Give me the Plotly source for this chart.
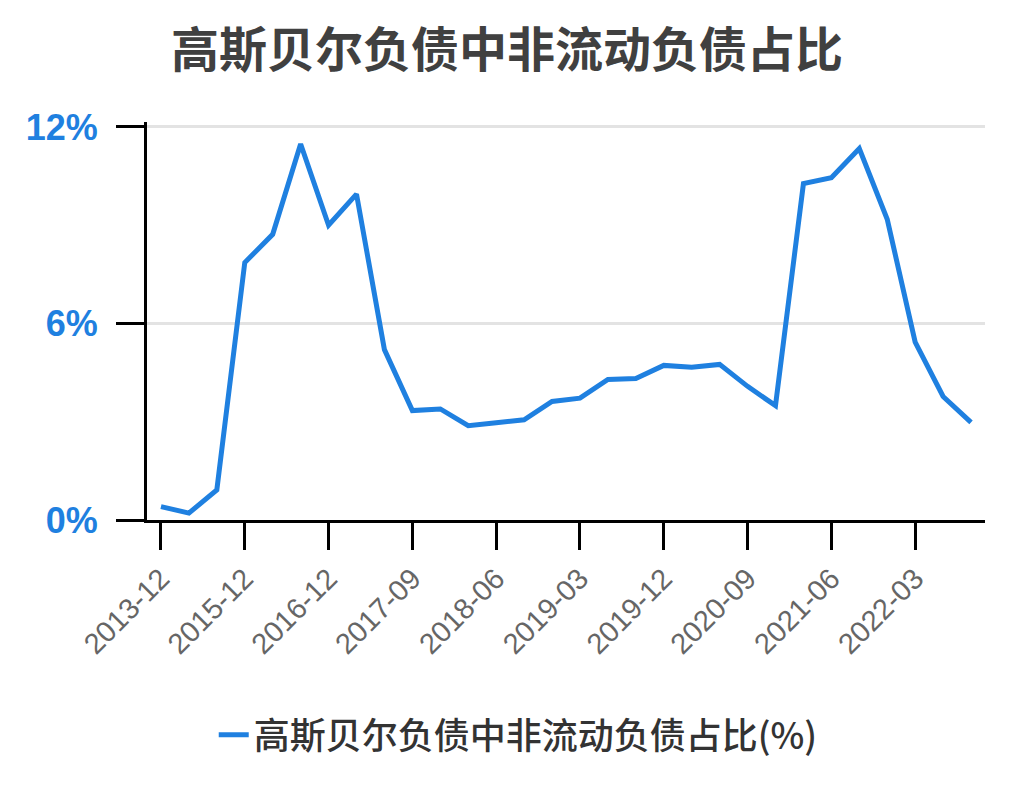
import plotly.graph_objects as go

# 报告期
periods = [
    "2013-12", "2014-12", "2015-06", "2015-12", "2016-06", "2016-09",
    "2016-12", "2017-03", "2017-06", "2017-09", "2017-12", "2018-03",
    "2018-06", "2018-09", "2018-12", "2019-03", "2019-06", "2019-09",
    "2019-12", "2020-03", "2020-06", "2020-09", "2020-12", "2021-03",
    "2021-06", "2021-09", "2021-12", "2022-03", "2022-06", "2022-09",
]

# 非流动负债占比 (%)
ratio = [
    0.41, 0.21, 0.92, 7.86, 8.72, 11.48,
    9.00, 9.95, 5.20, 3.34, 3.39, 2.88,
    2.97, 3.06, 3.62, 3.72, 4.29, 4.32,
    4.72, 4.66, 4.75, 4.08, 3.49, 10.27,
    10.45, 11.34, 9.18, 5.43, 3.77, 2.98,
]

y_ticks = [0, 6, 12]

title = "高斯贝尔负债中非流动负债占比"
series_name = "高斯贝尔负债中非流动负债占比(%)"

blue = "#1f80e0"
cjk = "Noto Sans CJK SC"

fig = go.Figure(
    go.Scatter(
        x=periods,
        y=ratio,
        mode="lines",
        name=series_name,
        line=dict(color=blue, width=5),
    )
)

fig.update_layout(
    width=1014,
    height=810,
    paper_bgcolor="white",
    plot_bgcolor="white",
    margin=dict(l=139, r=37, t=114, b=298, autoexpand=False),
    title=dict(
        text="<b>" + title + "</b>",
        x=0.492,
        xanchor="center",
        y=1 - 42 / 810,
        yanchor="middle",
        font=dict(family=cjk, size=48, color="#404040"),
    ),
    showlegend=True,
    legend=dict(
        orientation="h",
        x=0.443,
        xanchor="center",
        y=-0.54,
        yanchor="middle",
        font=dict(family=cjk, size=36, color="#333333", weight=500),
    ),
)

fig.update_xaxes(
    type="category",
    range=[-0.5, len(periods) - 0.5],
    tickmode="array",
    tickvals=periods[::3],
    ticktext=periods[::3],
    tickangle=-45,
    ticks="outside",
    ticklen=27,
    tickwidth=3,
    tickcolor="black",
    showline=True,
    linecolor="black",
    linewidth=3,
    showgrid=False,
    automargin=False,
    tickfont=dict(family="Liberation Sans", size=29, color="#666666"),
)

fig.update_yaxes(
    range=[0, 12.15],
    tickmode="array",
    tickvals=y_ticks,
    ticktext=["<b>%d%%</b>" % v for v in y_ticks],
    ticks="outside",
    ticklen=28,
    tickwidth=3,
    tickcolor="black",
    ticklabelstandoff=11,
    showline=True,
    linecolor="black",
    linewidth=3,
    showgrid=True,
    gridcolor="#e3e3e3",
    gridwidth=3,
    zeroline=False,
    automargin=False,
    tickfont=dict(family="Liberation Sans", size=36, color=blue),
)

fig.write_html("out.html")
